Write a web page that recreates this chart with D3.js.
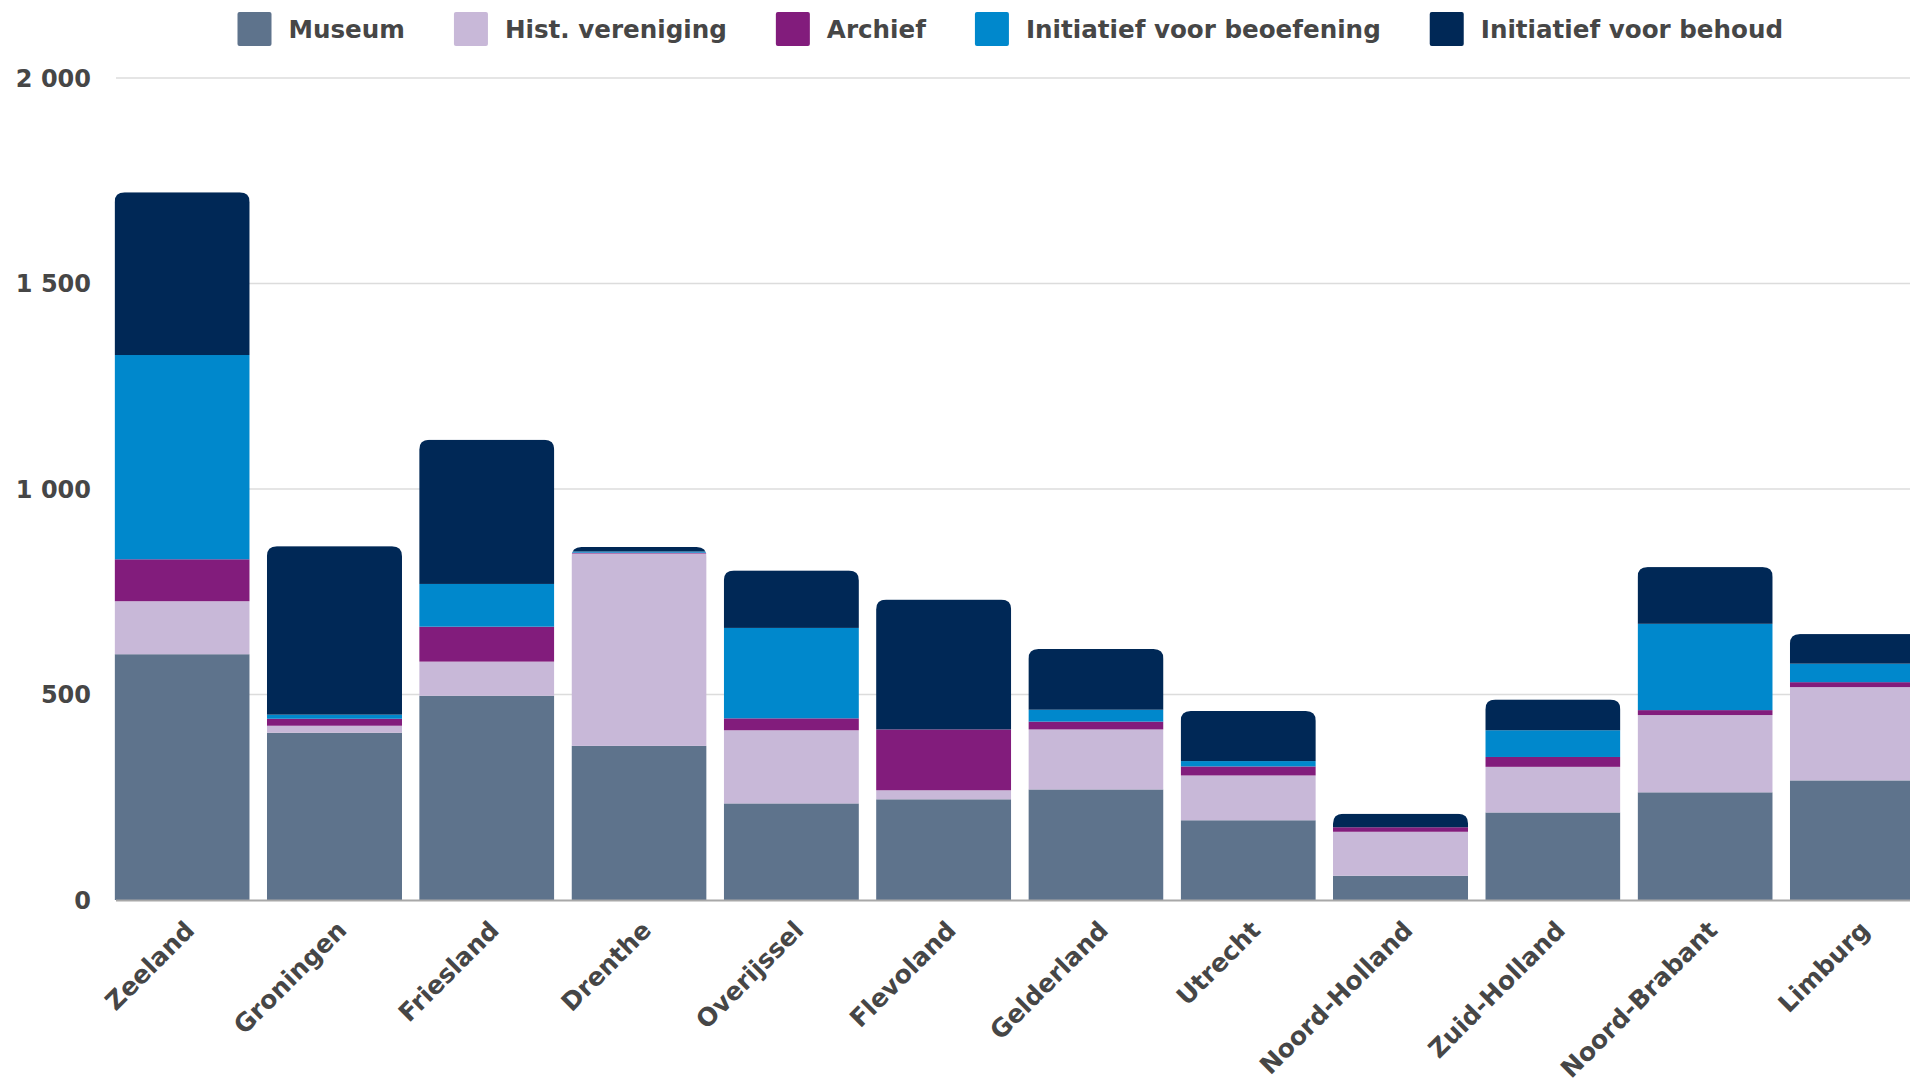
<!DOCTYPE html>
<html>
<head>
<meta charset="utf-8">
<script src="https://cdn.jsdelivr.net/npm/d3@7"></script>
<style>
  body { margin: 0; background: #fff; }
  svg { display: block; }
</style>
</head>
<body>
<div id="chart"></div>
<script>
const provinces = ['Zeeland', 'Groningen', 'Friesland', 'Drenthe', 'Overijssel', 'Flevoland',
  'Gelderland', 'Utrecht', 'Noord-Holland', 'Zuid-Holland', 'Noord-Brabant', 'Limburg']
const museum = [598, 407, 497, 375, 235, 245, 269, 194, 59, 213, 262, 291]
const histVereniging = [129, 17, 83, 468, 178, 22, 146, 109, 107, 111, 188, 227]
const archief = [102, 17, 85, 2, 29, 148, 19, 22, 11, 24, 12, 12]
const beoefening = [497, 10, 104, 3, 220, 0, 29, 13, 0, 65, 210, 45]
const behoud = [396, 410, 351, 11, 140, 316, 148, 122, 33, 75, 138, 72]
const seriesNames = ['Museum', 'Hist. vereniging', 'Archief', 'Initiatief voor beoefening', 'Initiatief voor behoud']
const seriesColors = ['#5e738c', '#c8b8d8', '#821c7c', '#0088cc', '#002856']
const yTicks = [0, 500, 1000, 1500, 2000]

const width = 1910
const height = 1084
const font = '"DejaVu Sans", sans-serif'
const textColor = '#464646'

const seriesValues = [museum, histVereniging, archief, beoefening, behoud]
const rows = provinces.map((p, i) => {
  const row = { province: p }
  seriesNames.forEach((s, j) => { row[s] = seriesValues[j][i] })
  return row
})

const svg = d3.select('#chart')
  .append('svg')
  .attr('width', width)
  .attr('height', height)

const x = d3.scaleBand()
  .domain(provinces)
  .range([106, 106 + 12 * 152.3])
  .paddingInner(0.113)
  .paddingOuter(0.0565)

const y = d3.scaleLinear()
  .domain([0, 2000])
  .range([900, 78])

const color = d3.scaleOrdinal().domain(seriesNames).range(seriesColors)

const nl = d3.formatLocale({ decimal: ',', thousands: '\u00a0', grouping: [3], currency: ['€', ''] })
const fmt = nl.format(',d')

// gridlines
svg.append('g')
  .selectAll('line')
  .data(yTicks.filter(d => d > 0))
  .enter().append('line')
  .attr('x1', 116)
  .attr('x2', width)
  .attr('y1', d => y(d))
  .attr('y2', d => y(d))
  .attr('stroke', '#dcdcdc')
  .attr('stroke-width', 1.5)

// y labels
svg.append('g')
  .selectAll('text')
  .data(yTicks)
  .enter().append('text')
  .attr('x', 91)
  .attr('y', d => y(d))
  .attr('dy', '0.36em')
  .attr('text-anchor', 'end')
  .attr('font-family', font)
  .attr('font-weight', 'bold')
  .attr('font-size', 24)
  .attr('fill', textColor)
  .text(d => fmt(d))

// bars
const stacked = d3.stack().keys(seriesNames)(rows)
const totals = rows.map(r => d3.sum(seriesNames, s => r[s]))
const r = 10

const defs = svg.append('defs')
defs.selectAll('clipPath')
  .data(provinces)
  .enter().append('clipPath')
  .attr('id', (_, i) => `clip-${i}`)
  .append('path')
  .attr('d', (p, i) => {
    const x0 = x(p)
    const x1 = x0 + x.bandwidth()
    const top = y(totals[i])
    const bottom = y(0)
    return `M${x0},${bottom}V${top + r}Q${x0},${top} ${x0 + r},${top}H${x1 - r}Q${x1},${top} ${x1},${top + r}V${bottom}Z`
  })

const groups = svg.append('g')
  .selectAll('g')
  .data(provinces)
  .enter().append('g')
  .attr('clip-path', (_, i) => `url(#clip-${i})`)

groups.selectAll('rect')
  .data((p, i) => stacked.map(layer => ({ key: layer.key, d: layer[i] })))
  .enter().append('rect')
  .attr('x', d => x(d.d.data.province))
  .attr('width', x.bandwidth())
  .attr('y', d => y(d.d[1]))
  .attr('height', d => Math.max(0, y(d.d[0]) - y(d.d[1])))
  .attr('fill', d => color(d.key))

// baseline
svg.append('line')
  .attr('x1', 116)
  .attr('x2', width)
  .attr('y1', y(0) + 0.5)
  .attr('y2', y(0) + 0.5)
  .attr('stroke', '#a8a8a8')
  .attr('stroke-width', 2)

// x labels
svg.append('g')
  .selectAll('text')
  .data(provinces)
  .enter().append('text')
  .attr('transform', d => `translate(${x(d) + x.bandwidth() / 2 + 1},${919}) rotate(-45)`)
  .attr('dy', '0.72em')
  .attr('text-anchor', 'end')
  .attr('font-family', font)
  .attr('font-weight', 'bold')
  .attr('font-size', 25)
  .attr('fill', textColor)
  .text(d => d)

// legend
const legend = svg.append('g')
let lx = 237.5
seriesNames.forEach((s, i) => {
  legend.append('rect')
    .attr('x', lx)
    .attr('y', 12)
    .attr('width', 34)
    .attr('height', 34)
    .attr('rx', 2)
    .attr('fill', seriesColors[i])
  const t = legend.append('text')
    .attr('x', lx + 34 + 17)
    .attr('y', 29)
    .attr('dy', '0.36em')
    .attr('font-family', font)
    .attr('font-weight', 'bold')
    .attr('font-size', 24.6)
    .attr('fill', textColor)
    .text(s)
  lx += 34 + 17 + t.node().getComputedTextLength() + 49
})
</script>
</body>
</html>
